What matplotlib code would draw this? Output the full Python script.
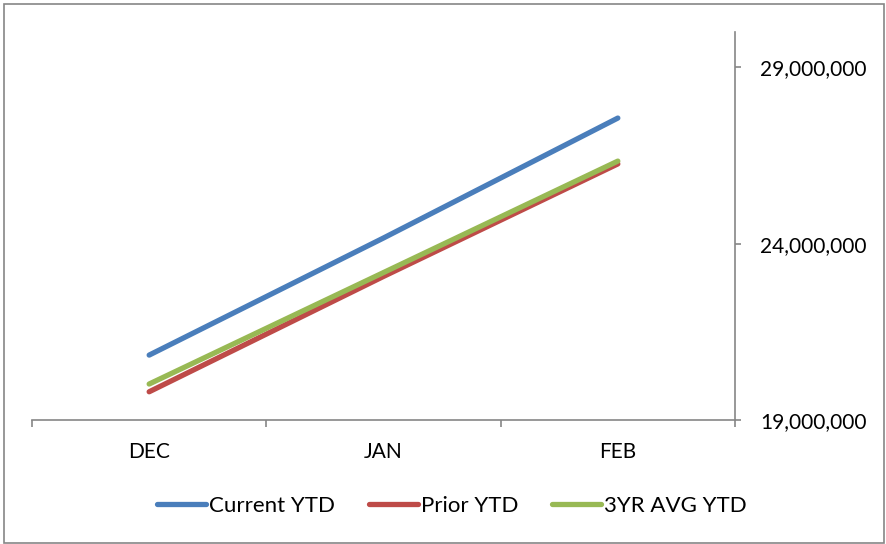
import matplotlib
matplotlib.use("Agg")
import matplotlib.pyplot as plt
from matplotlib.ticker import FuncFormatter, FixedLocator, NullFormatter
from matplotlib.patches import Rectangle

months = ["DEC", "JAN", "FEB"]
current_ytd = [20840000, 24160000, 27560000]
prior_ytd = [19800000, 23070000, 26260000]
avg3yr_ytd = [20020000, 23180000, 26340000]

series = [
    ("Current YTD", current_ytd, "#4A7EBB"),
    ("Prior YTD", prior_ytd, "#BE4B48"),
    ("3YR AVG YTD", avg3yr_ytd, "#98B954"),
]

plt.rcParams["font.family"] = ["Lato", "DejaVu Sans"]
FS = 15
LEG_FS = 16

fig = plt.figure(figsize=(8.87, 5.44), dpi=100)
ax = fig.add_axes([32 / 887, 1 - 420 / 544, (735 - 32) / 887, (420 - 32) / 544])

x = list(range(len(months)))
for label, vals, color in series:
    ax.plot(x, vals, color=color, lw=3.8, solid_capstyle="round", label=label)

ax.set_xlim(-0.5, len(months) - 0.5)
ax.set_ylim(19000000, 30000000)

# category axis: tick marks on boundaries, labels centred
ax.xaxis.set_major_locator(FixedLocator([i - 0.5 for i in range(len(months) + 1)]))
ax.xaxis.set_major_formatter(NullFormatter())
ax.xaxis.set_minor_locator(FixedLocator(x))
ax.set_xticklabels(months, minor=True)
ax.tick_params(axis="x", which="major", direction="out", length=5, width=1.2, color="#868686")
ax.tick_params(axis="x", which="minor", length=0, pad=16, labelsize=FS)

ax.yaxis.tick_right()
ax.set_yticks([19000000, 24000000, 29000000])
ax.yaxis.set_major_formatter(FuncFormatter(lambda v, p: f"{int(v):,}"))
ax.tick_params(axis="y", direction="out", length=4, width=1.2, color="#868686",
               pad=14, labelsize=FS)

for s in ("left", "top"):
    ax.spines[s].set_visible(False)
for s in ("right", "bottom"):
    ax.spines[s].set_color("#868686")
    ax.spines[s].set_linewidth(1.2)

fig.legend(loc="center", bbox_to_anchor=(452 / 887, 1 - 506 / 544), ncol=3,
           frameon=False, fontsize=LEG_FS, handlelength=2.2, handletextpad=0.15,
           columnspacing=1.5)

fig.patches.append(Rectangle((4 / 887, 1 / 544), 880 / 887, 539 / 544,
                             transform=fig.transFigure, fill=False,
                             edgecolor="#868686", lw=1.2))

fig.savefig("out.png", dpi=100)
